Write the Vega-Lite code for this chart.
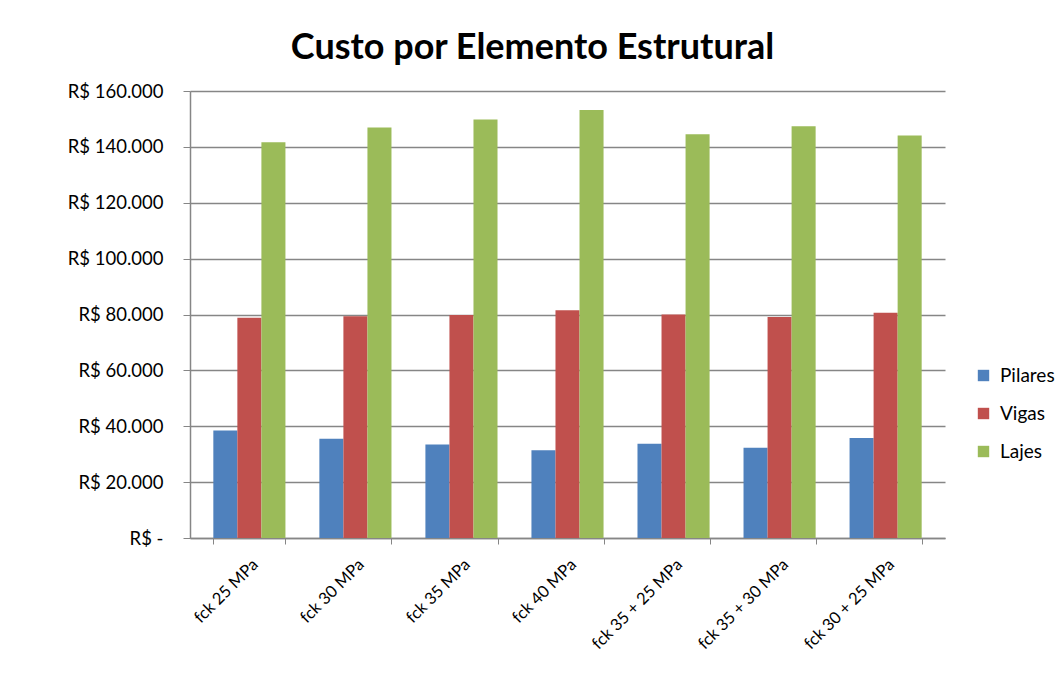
{
  "$schema": "https://vega.github.io/schema/vega-lite/v6.json",
  "autosize": "none",
  "width": 755,
  "height": 447,
  "padding": {"left": 190, "top": 91, "right": 114, "bottom": 142},
  "background": "white",
  "title": {
    "text": "Custo por Elemento Estrutural",
    "fontSize": 36,
    "fontWeight": "bold",
    "font": "Lato",
    "color": "#000000",
    "anchor": "middle",
    "dx": -35,
    "offset": 15
  },
  "data": {
    "values": [
      {"cenario": "fck 25 MPa", "elemento": "Pilares", "custo": 38500},
      {"cenario": "fck 25 MPa", "elemento": "Vigas", "custo": 78800},
      {"cenario": "fck 25 MPa", "elemento": "Lajes", "custo": 141700},
      {"cenario": "fck 30 MPa", "elemento": "Pilares", "custo": 35500},
      {"cenario": "fck 30 MPa", "elemento": "Vigas", "custo": 79400},
      {"cenario": "fck 30 MPa", "elemento": "Lajes", "custo": 146900},
      {"cenario": "fck 35 MPa", "elemento": "Pilares", "custo": 33500},
      {"cenario": "fck 35 MPa", "elemento": "Vigas", "custo": 79800},
      {"cenario": "fck 35 MPa", "elemento": "Lajes", "custo": 149800},
      {"cenario": "fck 40 MPa", "elemento": "Pilares", "custo": 31400},
      {"cenario": "fck 40 MPa", "elemento": "Vigas", "custo": 81500},
      {"cenario": "fck 40 MPa", "elemento": "Lajes", "custo": 153200},
      {"cenario": "fck 35 + 25 MPa", "elemento": "Pilares", "custo": 33700},
      {"cenario": "fck 35 + 25 MPa", "elemento": "Vigas", "custo": 80000},
      {"cenario": "fck 35 + 25 MPa", "elemento": "Lajes", "custo": 144500},
      {"cenario": "fck 35 + 30 MPa", "elemento": "Pilares", "custo": 32300},
      {"cenario": "fck 35 + 30 MPa", "elemento": "Vigas", "custo": 79100},
      {"cenario": "fck 35 + 30 MPa", "elemento": "Lajes", "custo": 147400},
      {"cenario": "fck 30 + 25 MPa", "elemento": "Pilares", "custo": 35800},
      {"cenario": "fck 30 + 25 MPa", "elemento": "Vigas", "custo": 80600},
      {"cenario": "fck 30 + 25 MPa", "elemento": "Lajes", "custo": 144100}
    ]
  },
  "mark": {"type": "bar", "stroke": null},
  "encoding": {
    "x": {
      "field": "cenario",
      "type": "nominal",
      "sort": null,
      "scale": {"paddingInner": 0.32, "paddingOuter": 0.22},
      "axis": {
        "title": null,
        "labelAngle": -45,
        "labelFontSize": 16.5,
        "labelFont": "Lato",
        "labelColor": "#000000",
        "labelPadding": 12,
        "domainColor": "#868686",
        "domainWidth": 1.5,
        "tickBand": "extent",
        "tickColor": "#868686",
        "tickSize": 6,
        "grid": false
      }
    },
    "xOffset": {
      "field": "elemento",
      "type": "nominal",
      "sort": ["Pilares", "Vigas", "Lajes"],
      "scale": {"paddingInner": 0}
    },
    "y": {
      "field": "custo",
      "type": "quantitative",
      "scale": {"domain": [0, 160000], "nice": false},
      "axis": {
        "title": null,
        "values": [0, 20000, 40000, 60000, 80000, 100000, 120000, 140000, 160000],
        "labelExpr": "datum.value == 0 ? 'R$ -' : 'R$ ' + replace(format(datum.value, ','), ',', '.')",
        "labelFontSize": 18.5,
        "labelFont": "Lato",
        "labelColor": "#000000",
        "labelPadding": 20,
        "domainColor": "#868686",
        "domainWidth": 1.5,
        "tickColor": "#868686",
        "tickSize": 7,
        "gridColor": "#868686",
        "gridWidth": 1.5
      }
    },
    "color": {
      "field": "elemento",
      "type": "nominal",
      "sort": ["Pilares", "Vigas", "Lajes"],
      "scale": {"domain": ["Pilares", "Vigas", "Lajes"], "range": ["#4F81BD", "#C0504D", "#9BBB59"]},
      "legend": {
        "title": null,
        "orient": "none",
        "legendX": 784,
        "legendY": 275,
        "labelFontSize": 19,
        "labelFont": "Lato",
        "labelColor": "#000000",
        "labelOffset": 7,
        "symbolType": "square",
        "symbolSize": 130,
        "symbolStrokeWidth": 0,
        "rowPadding": 18,
        "padding": 0,
        "direction": "vertical"
      }
    }
  },
  "config": {
    "view": {"stroke": null}
  }
}
